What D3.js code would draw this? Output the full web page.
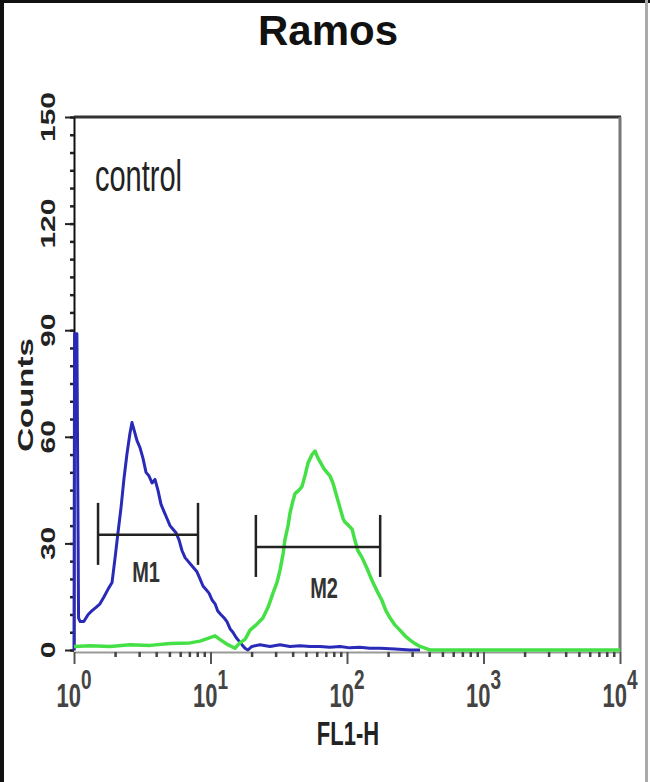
<!DOCTYPE html>
<html><head><meta charset="utf-8">
<script src="https://cdn.jsdelivr.net/npm/d3@7"></script>
<style>html,body{margin:0;padding:0;background:#fff;} svg{display:block;font-family:"Liberation Sans",Arial,sans-serif;}</style>
</head><body>
<svg id="c" width="650" height="782"></svg>
<script>
const title = "Ramos";
const yTicks = [0, 30, 60, 90, 120, 150];
const xDecades = [1, 10, 100, 1000, 10000];
const xExponents = ["0", "1", "2", "3", "4"];
const xLabel = "FL1-H";
const yLabel = "Counts";
const sampleLabel = "control";

// control (blue) histogram: FL1-H value, counts
const blueX = [1.00,1.01,1.05,1.08,1.11,1.18,1.27,1.35,1.45,1.55,1.66,1.77,1.90,2.00,2.10,2.21,2.32,2.44,2.57,2.66,2.75,2.89,3.04,3.20,3.37,3.54,3.73,3.92,4.12,4.34,4.56,4.80,5.05,5.31,5.59,5.88,6.18,6.51,6.84,7.20,7.57,7.96,8.38,8.81,9.27,9.75,10.3,10.8,11.3,11.9,12.6,13.2,13.9,14.6,15.4,16.2,17.0,17.9,18.8,20.1,23.0,27.3,32.3,38.2,45.3,53.6,63.4,75.0,88.9,105,124,147,175,225,290,343,10000];
const blueY = [0,89,89,9,8,8,10,11,12,13,15,17,19,26,33,40,48,55,61,64,62,59,57,54,50,49,47,48,45,41,39,37,35,34,33,31,28,26,25,24,23,22,20,18,17,16,14,13,11,10,9,8,6,5,3.5,2.5,1.5,0.5,0,1,1.5,1,1.5,1,1.2,1,1,0.8,1,0.6,0.8,0.5,0.5,0.3,0,0];

// antibody (green) histogram
const greenX = [1.00,1.31,1.84,2.57,3.61,5.05,7.08,8.38,9.92,10.8,11.7,13.4,15.1,16.4,17.9,19.5,21.5,24.2,26.4,28.7,30.7,32.3,34.0,35.1,37.0,38.2,40.2,41.6,44.5,46.8,49.2,51.8,55.4,58.3,61.3,63.4,67.9,71.3,75.0,78.9,84.5,88.9,93.5,96.6,103,109,114,120,129,140,147,155,169,180,193,207,225,244,266,290,315,343,373,405,10000];
const greenY = [1,1.2,1,1.5,1.3,1.8,2,2.5,3.5,4,3,1.5,0.5,2,3,5.6,7,9,12,16,19,22.5,27,31,35,38.5,42,44,45,46,49,52.6,55,56,54,53,51,50,49,47,43,40,37,36,35,34,31,28,26,23,21,19,16,14,11,9,7,5.6,4,2.8,1.8,1,0.5,0,0];

// markers: [name, lower FL1-H, upper FL1-H, count level]
const markerNames = ["M1", "M2"];
const markerLo = [1.50, 21.5];
const markerHi = [8.10, 175];
const markerLevel = [32.4, 29.0];

const svg = d3.select("#c");
const L = 74, R = 620, T = 117, B = 650;
const x = d3.scaleLog().domain([1, 10000]).range([L, R]);
const y = d3.scaleLinear().domain([0, 150]).range([B, T]);
const FS = "1.5";

// outer frame
svg.append("rect").attr("x",0).attr("y",0).attr("width",650).attr("height",782).attr("fill","#fff");
svg.append("rect").attr("x",0).attr("y",0).attr("width",4).attr("height",782).attr("fill","#111");
svg.append("rect").attr("x",0).attr("y",0).attr("width",650).attr("height",3).attr("fill","#111");
svg.append("rect").attr("x",645).attr("y",0).attr("width",3).attr("height",782).attr("fill","#aaa");

// title
svg.append("text").attr("x",328).attr("y",45).attr("text-anchor","middle")
  .attr("font-size",42).attr("font-weight","bold").attr("fill","#111").text(title);

// plot box top/right
svg.append("line").attr("x1",L).attr("x2",R+1).attr("y1",T).attr("y2",T).attr("stroke","#333").attr("stroke-width",3);
svg.append("line").attr("x1",R).attr("x2",R).attr("y1",T).attr("y2",B+2).attr("stroke","#777").attr("stroke-width",3);

// x axis
const xMinor = [];
for (let d = 1; d < 10000; d *= 10) for (let k = 2; k <= 9; k++) xMinor.push(d*k);
const gxm = svg.append("g").attr("transform",`translate(0,${B+2})`)
  .call(d3.axisBottom(x).tickValues(xMinor).tickSize(5).tickFormat("").tickSizeOuter(0));
gxm.select(".domain").attr("stroke","#999").attr("stroke-width",2);
gxm.selectAll(".tick line").attr("stroke","#444").attr("stroke-width",2.5);
const gxM = svg.append("g").attr("transform",`translate(0,${B+2})`)
  .call(d3.axisBottom(x).tickValues(xDecades).tickSize(12).tickFormat("").tickSizeOuter(0));
gxM.select(".domain").remove();
gxM.selectAll(".tick line").attr("stroke","#555").attr("stroke-width",2);

xDecades.forEach((d,i) => {
  const t = svg.append("text").attr("transform",`translate(${x(d)},707) scale(1,${FS})`)
    .attr("text-anchor","middle").attr("font-size",22).attr("font-weight","bold").attr("fill","#444");
  t.append("tspan").text("10");
  t.append("tspan").attr("dy",-12).attr("font-size",19).text(xExponents[i]);
});
svg.append("text").attr("transform",`translate(348,745) scale(1,${FS})`).attr("text-anchor","middle")
  .attr("font-size",22).attr("font-weight","bold").attr("fill","#222").text(xLabel);

// y axis
const gym = svg.append("g").attr("transform",`translate(${L},0)`)
  .call(d3.axisLeft(y).tickValues(d3.range(0,151,5)).tickSize(4).tickFormat("").tickSizeOuter(0));
gym.select(".domain").attr("stroke","#111").attr("stroke-width",2);
gym.selectAll(".tick line").attr("stroke","#222").attr("stroke-width",2.5);
const gyM = svg.append("g").attr("transform",`translate(${L},0)`)
  .call(d3.axisLeft(y).tickValues(yTicks).tickSize(9).tickFormat("").tickSizeOuter(0));
gyM.select(".domain").remove();
gyM.selectAll(".tick line").attr("stroke","#222").attr("stroke-width",2);
yTicks.forEach(v => {
  svg.append("text").attr("transform",`translate(55,${y(v)}) rotate(-90) scale(${FS},1)`)
    .attr("text-anchor","middle").attr("font-size",20).attr("font-weight","bold").attr("fill","#222").text(v);
});
svg.append("text").attr("transform",`translate(33,395) rotate(-90) scale(${FS},1)`)
  .attr("text-anchor","middle").attr("font-size",22).attr("font-weight","bold").attr("fill","#222").text(yLabel);

// sample label
svg.append("text").attr("transform",`translate(95,191) scale(1,${FS})`)
  .attr("font-size",29).attr("fill","#222").text(sampleLabel);

// curves
const line = d3.line().x(d => x(d[0])).y(d => y(d[1]));
svg.append("path").datum(blueX.map((v,i)=>[v,blueY[i]]))
  .attr("d",line).attr("fill","none").attr("stroke","#2a2ab8").attr("stroke-width",3).attr("stroke-linejoin","round");
svg.append("path").datum(greenX.map((v,i)=>[v,greenY[i]]))
  .attr("d",line).attr("fill","none").attr("stroke","#45e045").attr("stroke-width",3.5).attr("stroke-linejoin","round");

// markers
markerNames.forEach((n,i) => {
  const g = svg.append("g").attr("stroke","#222").attr("stroke-width",2.5);
  const yy = y(markerLevel[i]);
  g.append("line").attr("x1",x(markerLo[i])).attr("x2",x(markerHi[i])).attr("y1",yy).attr("y2",yy);
  [markerLo[i], markerHi[i]].forEach(v => {
    g.append("line").attr("x1",x(v)).attr("x2",x(v)).attr("y1",yy-32).attr("y2",yy+30);
  });
  svg.append("text").attr("transform",`translate(${(x(markerLo[i])+x(markerHi[i]))/2+(i===0?-2:6)},${yy+47+(i===0?0:4)}) scale(1,${FS})`)
    .attr("text-anchor","middle").attr("font-size",20).attr("font-weight","bold").attr("fill","#333").text(n);
});
</script>
</body></html>
